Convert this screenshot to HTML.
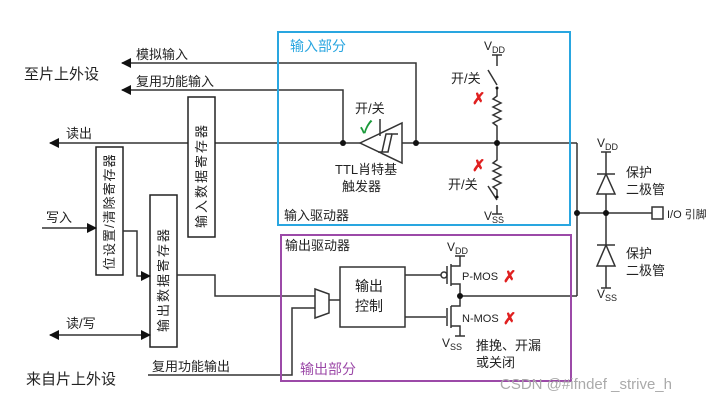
<!DOCTYPE html>
<html><head><meta charset="utf-8"><style>
html,body{margin:0;padding:0;background:#fff;width:720px;height:402px;overflow:hidden}
svg text{font-family:"Liberation Sans","Noto Sans CJK SC",sans-serif;fill:#222}
</style></head><body>
<svg width="720" height="402" viewBox="0 0 720 402" xmlns="http://www.w3.org/2000/svg">
<defs>
<marker id="ar" markerWidth="10" markerHeight="10" refX="9" refY="5" orient="auto" markerUnits="userSpaceOnUse"><path d="M0,0 L10,5 L0,10 z" fill="#111"/></marker>
<marker id="al" markerWidth="10" markerHeight="10" refX="1" refY="5" orient="auto" markerUnits="userSpaceOnUse"><path d="M10,0 L0,5 L10,10 z" fill="#111"/></marker>
</defs>
<g stroke="#333" stroke-width="1.5" fill="none">
<polyline points="122,63 416,63 416,143" marker-start="url(#al)"/>
<polyline points="122,90 343,90 343,143" marker-start="url(#al)"/>
<line x1="50" y1="143" x2="188" y2="143" marker-start="url(#al)"/>
<line x1="215" y1="143" x2="360" y2="143"/>
<line x1="402" y1="143" x2="577" y2="143"/>
<line x1="577" y1="143" x2="577" y2="296"/>
<line x1="577" y1="213" x2="652" y2="213"/>
<rect x="188" y="97" width="27" height="140" stroke="#222" fill="#fff"/>
<rect x="96" y="147" width="27" height="128" stroke="#222" fill="#fff"/>
<rect x="150" y="195" width="27" height="152" stroke="#222" fill="#fff"/>
<line x1="42" y1="228" x2="96" y2="228" marker-end="url(#ar)"/>
<polyline points="123,231 137,231 137,276 150,276" marker-end="url(#ar)"/>
<line x1="50" y1="335" x2="150" y2="335" marker-start="url(#al)" marker-end="url(#ar)"/>
<polyline points="177,275 215,275 215,296 315,296"/>
<polyline points="148,375 292,375 292,308 315,308"/>
<polygon points="315,289 329,294 329,313 315,318" fill="#fff"/>
<line x1="329" y1="300" x2="340" y2="300"/>
<rect x="340" y="267" width="65" height="60" fill="#fff"/>
<line x1="405" y1="275" x2="441" y2="275"/>
<line x1="405" y1="317" x2="446" y2="317"/>
<circle cx="444" cy="275" r="3" fill="#fff"/>
<line x1="447" y1="266" x2="447" y2="284"/>
<line x1="451" y1="264" x2="451" y2="286"/>
<polyline points="451,266 460,266 460,256"/>
<line x1="455" y1="256" x2="465" y2="256"/>
<polyline points="451,284 460,284 460,306 451,306"/>
<line x1="447" y1="308" x2="447" y2="326"/>
<line x1="451" y1="306" x2="451" y2="328"/>
<polyline points="451,326 460,326 460,336"/>
<line x1="455" y1="336" x2="465" y2="336"/>
<line x1="460" y1="296" x2="577" y2="296"/>
<polygon points="360,143 402,123 402,163" fill="#fff"/>
<polyline points="378,152 388,152 392,134 398,134"/>
<polyline points="382,152 386,134 392,134"/>
<line x1="380" y1="119" x2="380" y2="136"/>
<line x1="492" y1="55" x2="502" y2="55"/>
<line x1="497" y1="55" x2="497" y2="66"/>
<line x1="497" y1="85" x2="488" y2="70"/>
<polyline points="497,89 497,96 493,99 501,103 493,107 501,111 493,115 501,119 493,123 497,126 497,160 493,163 501,167 493,171 501,175 493,179 501,183 493,187 497,190 497,196"/>
<line x1="497" y1="200" x2="488" y2="186"/>
<line x1="497" y1="205" x2="497" y2="214"/>
<line x1="492" y1="214" x2="502" y2="214"/>
<line x1="601" y1="152" x2="611" y2="152"/>
<line x1="606" y1="152" x2="606" y2="288"/>
<line x1="597" y1="174" x2="615" y2="174"/>
<polygon points="606,174 597,194 615,194" fill="#fff"/>
<line x1="597" y1="245" x2="615" y2="245"/>
<polygon points="606,245 597,266 615,266" fill="#fff"/>
<line x1="601" y1="288" x2="611" y2="288"/>
<rect x="652" y="207" width="11" height="12" fill="#fff"/>
</g>
<g fill="#111">
<circle cx="343" cy="143" r="3"/><circle cx="416" cy="143" r="3"/><circle cx="497" cy="143" r="3"/>
<circle cx="497" cy="88" r="1.5"/><circle cx="497" cy="197" r="1.5"/>
<circle cx="577" cy="213" r="3"/><circle cx="606" cy="213" r="3"/><circle cx="460" cy="296" r="3"/>
</g>
<rect x="278" y="32" width="292" height="193" fill="none" stroke="#29a6e0" stroke-width="2"/>
<rect x="281" y="235" width="290" height="146" fill="none" stroke="#9c4aa8" stroke-width="2"/>
<g font-size="13">
<text x="24" y="79" font-size="15">至片上外设</text>
<text x="136" y="59">模拟输入</text>
<text x="136" y="86">复用功能输入</text>
<text x="66" y="138">读出</text>
<text x="46" y="222">写入</text>
<text x="66" y="328">读/写</text>
<text x="26" y="384" font-size="15">来自片上外设</text>
<text x="152" y="371">复用功能输出</text>
<text x="290" y="51" style="fill:#29a6e0" font-size="14">输入部分</text>
<text x="300" y="374" style="fill:#9c4aa8" font-size="14">输出部分</text>
<text x="284" y="220">输入驱动器</text>
<text x="285" y="250">输出驱动器</text>
<text x="355" y="113">开/关</text>
<text x="335" y="174">TTL肖特基</text>
<text x="342" y="191">触发器</text>
<text x="451" y="83">开/关</text>
<text x="448" y="189">开/关</text>
<text x="484" y="50" font-size="12">V<tspan font-size="9" dy="3">DD</tspan></text>
<text x="484" y="220" font-size="12">V<tspan font-size="9" dy="3">SS</tspan></text>
<text x="597" y="147" font-size="12">V<tspan font-size="9" dy="3">DD</tspan></text>
<text x="597" y="298" font-size="12">V<tspan font-size="9" dy="3">SS</tspan></text>
<text x="447" y="251" font-size="12">V<tspan font-size="9" dy="3">DD</tspan></text>
<text x="442" y="347" font-size="12">V<tspan font-size="9" dy="3">SS</tspan></text>
<text x="626" y="177">保护</text><text x="626" y="194">二极管</text>
<text x="626" y="258">保护</text><text x="626" y="275">二极管</text>
<text x="667" y="218" font-size="11">I/O 引脚</text>
<text x="462" y="280" font-size="11">P-MOS</text>
<text x="462" y="322" font-size="11">N-MOS</text>
<text x="476" y="350">推挽、开漏</text>
<text x="476" y="367">或关闭</text>
<text x="355" y="291" font-size="14">输出</text>
<text x="355" y="311" font-size="14">控制</text>
<text x="360" y="133" font-size="17" font-weight="bold" style="fill:#1a9a3a">✓</text>
<text x="472" y="104" font-size="16" font-weight="bold" style="fill:#e02020">✗</text>
<text x="472" y="171" font-size="16" font-weight="bold" style="fill:#e02020">✗</text>
<text x="503" y="282" font-size="16" font-weight="bold" style="fill:#e02020">✗</text>
<text x="503" y="324" font-size="16" font-weight="bold" style="fill:#e02020">✗</text>
<text x="500" y="389" font-size="15" style="fill:#aaa">CSDN @#ifndef _strive_h</text>
<text transform="translate(206,228) rotate(-90)" font-size="13" letter-spacing="2">输入数据寄存器</text>
<text transform="translate(114,270) rotate(-90)" font-size="13" letter-spacing="1">位设置/清除寄存器</text>
<text transform="translate(168,332) rotate(-90)" font-size="13" letter-spacing="2">输出数据寄存器</text>
</g>
</svg>
</body></html>
